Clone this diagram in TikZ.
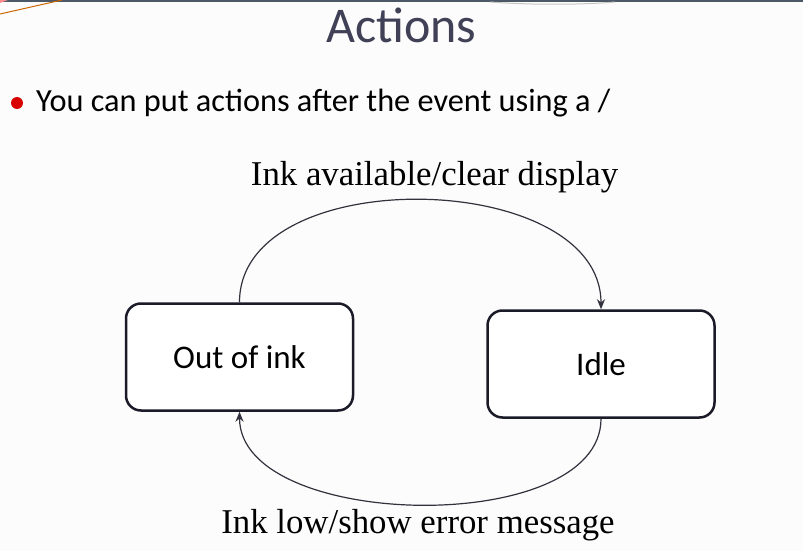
\documentclass[tikz,border=0pt]{standalone}
\usepackage{fontspec}
\setmainfont{Carlito}
\newfontfamily\lblfont{Liberation Serif}
\usetikzlibrary{arrows.meta}
\definecolor{slate}{RGB}{74,88,104}
\definecolor{titlec}{RGB}{64,64,86}
\definecolor{boxc}{RGB}{26,26,40}
\definecolor{arcc}{RGB}{50,50,62}

\begin{document}
\begin{tikzpicture}[x=1pt, y=-1pt, every node/.style={inner sep=0pt}, st/.style={draw=boxc, line width=2.5pt, rounded corners=15pt, fill=white, minimum width=227pt, minimum height=107pt, font=\fontsize{33}{38}\selectfont}, lbl/.style={anchor=base, font=\lblfont\fontsize{34.8}{40}\selectfont}, arc/.style={arcc, line width=1.2pt, -{Stealth[length=10pt, width=8pt]}}]
	\useasboundingbox (0,0) rectangle (803,551);
	\fill[white!98!gray] (0,0) rectangle (803,551);
	% slide decoration
	\fill[slate] (0,0) rectangle (803,2);
	\fill[red!45] (0,0) -- (8,0) -- (0,3) -- cycle;
	\draw[orange!80!black, line width=1pt] (0,14) -- (62,0);
	\draw[gray!45, line width=1pt] (490,2) .. controls (530,5) and (580,5) .. (615,2);
	\node[anchor=base, text=titlec, font=\fontsize{50}{56}\selectfont] (title) at (401.5,43) {Actions};
	\fill[red!85!black] (17,103) circle (6pt);
	\node[anchor=base west, font=\fontsize{32.3}{38}\selectfont] (bullet) at (36,111) {You can put actions after the event using a /};
	\foreach \n/\x/\y/\t in {ooi/239.5/357/Out of ink, idle/601/364/Idle} {\node[st] (\n) at (\x,\y) {\t};}
	\draw[arc] (ooi.north) .. controls +(0,-141) and +(0,-141) .. (idle.north);
	\draw[arc] (idle.south) .. controls +(0,119) and +(0,119) .. (ooi.south);
	\node[lbl] (avail) at (434.5,185) {Ink available/clear display};
	\node[lbl] (low) at (418,533) {Ink low/show error message};
\end{tikzpicture}
\end{document}
